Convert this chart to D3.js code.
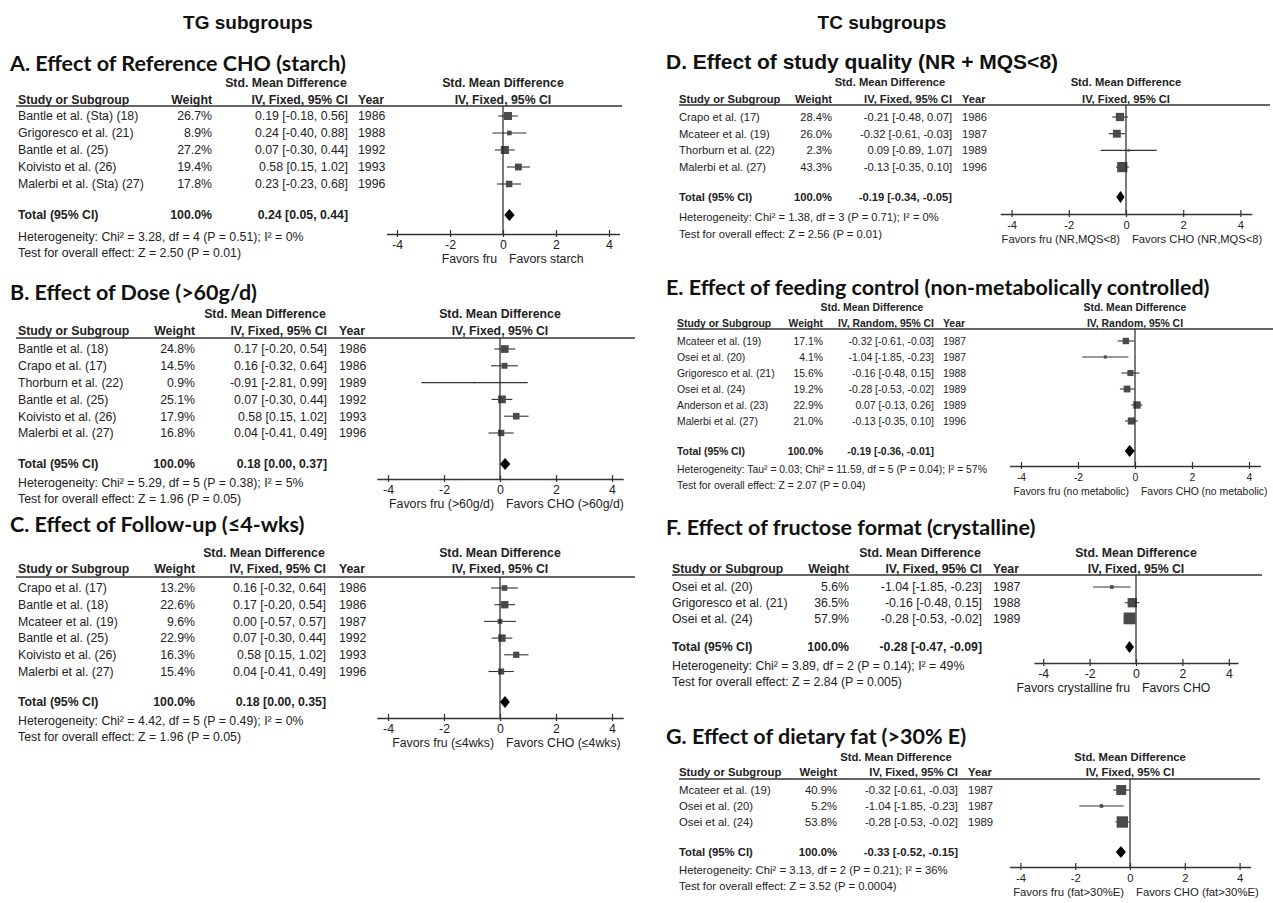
<!DOCTYPE html>
<html>
<head>
<meta charset="utf-8">
<script src="https://cdn.jsdelivr.net/npm/d3@7"></script>
<style>
  body { margin: 0; background: #fff; }
  svg text { font-family: "Liberation Sans", Arial, sans-serif; fill: #222; }
  .title { font-family: Lato, "Open Sans", sans-serif; font-weight: 700; font-size: 21.5px; fill: #111; }
  .titleArial { font-weight: 700; font-size: 21px; fill: #111; }
  .group { font-weight: 700; font-size: 19px; fill: #111; }
</style>
</head>
<body>
<svg id="chart" width="1273" height="903"></svg>
<script>
// ---- data ----
const groupTitles = ['TG subgroups', 'TC subgroups'];
const xTicks = [-4, -2, 0, 2, 4];

const titleA = 'A. Effect of Reference CHO (starch)';
const studiesA = ['Bantle et al. (Sta) (18)', 'Grigoresco et al. (21)', 'Bantle et al. (25)', 'Koivisto et al. (26)', 'Malerbi et al. (Sta) (27)'];
const weightsA = [26.7, 8.9, 27.2, 19.4, 17.8];
const smdA = [0.19, 0.24, 0.07, 0.58, 0.23];
const lowA = [-0.18, -0.40, -0.30, 0.15, -0.23];
const highA = [0.56, 0.88, 0.44, 1.02, 0.68];
const yearsA = [1986, 1988, 1992, 1993, 1996];
const totalA = [0.24, 0.05, 0.44];
const statsA = ['Heterogeneity: Chi² = 3.28, df = 4 (P = 0.51); I² = 0%', 'Test for overall effect: Z = 2.50 (P = 0.01)'];
const favorsA = ['Favors fru', 'Favors starch'];

const titleB = 'B. Effect of Dose (>60g/d)';
const studiesB = ['Bantle et al. (18)', 'Crapo et al. (17)', 'Thorburn et al. (22)', 'Bantle et al. (25)', 'Koivisto et al. (26)', 'Malerbi et al. (27)'];
const weightsB = [24.8, 14.5, 0.9, 25.1, 17.9, 16.8];
const smdB = [0.17, 0.16, -0.91, 0.07, 0.58, 0.04];
const lowB = [-0.20, -0.32, -2.81, -0.30, 0.15, -0.41];
const highB = [0.54, 0.64, 0.99, 0.44, 1.02, 0.49];
const yearsB = [1986, 1986, 1989, 1992, 1993, 1996];
const totalB = [0.18, 0.00, 0.37];
const statsB = ['Heterogeneity: Chi² = 5.29, df = 5 (P = 0.38); I² = 5%', 'Test for overall effect: Z = 1.96 (P = 0.05)'];
const favorsB = ['Favors fru (>60g/d)', 'Favors CHO (>60g/d)'];

const titleC = 'C. Effect of Follow-up (≤4-wks)';
const studiesC = ['Crapo et al. (17)', 'Bantle et al. (18)', 'Mcateer et al. (19)', 'Bantle et al. (25)', 'Koivisto et al. (26)', 'Malerbi et al. (27)'];
const weightsC = [13.2, 22.6, 9.6, 22.9, 16.3, 15.4];
const smdC = [0.16, 0.17, 0.00, 0.07, 0.58, 0.04];
const lowC = [-0.32, -0.20, -0.57, -0.30, 0.15, -0.41];
const highC = [0.64, 0.54, 0.57, 0.44, 1.02, 0.49];
const yearsC = [1986, 1986, 1987, 1992, 1993, 1996];
const totalC = [0.18, 0.00, 0.35];
const statsC = ['Heterogeneity: Chi² = 4.42, df = 5 (P = 0.49); I² = 0%', 'Test for overall effect: Z = 1.96 (P = 0.05)'];
const favorsC = ['Favors fru (≤4wks)', 'Favors CHO (≤4wks)'];

const titleD = 'D. Effect of study quality (NR + MQS<8)';
const studiesD = ['Crapo et al. (17)', 'Mcateer et al. (19)', 'Thorburn et al. (22)', 'Malerbi et al. (27)'];
const weightsD = [28.4, 26.0, 2.3, 43.3];
const smdD = [-0.21, -0.32, 0.09, -0.13];
const lowD = [-0.48, -0.61, -0.89, -0.35];
const highD = [0.07, -0.03, 1.07, 0.10];
const yearsD = [1986, 1987, 1989, 1996];
const totalD = [-0.19, -0.34, -0.05];
const statsD = ['Heterogeneity: Chi² = 1.38, df = 3 (P = 0.71); I² = 0%', 'Test for overall effect: Z = 2.56 (P = 0.01)'];
const favorsD = ['Favors fru (NR,MQS<8)', 'Favors CHO (NR,MQS<8)'];

const titleE = 'E. Effect of feeding control (non-metabolically controlled)';
const studiesE = ['Mcateer et al. (19)', 'Osei et al. (20)', 'Grigoresco et al. (21)', 'Osei et al. (24)', 'Anderson et al. (23)', 'Malerbi et al. (27)'];
const weightsE = [17.1, 4.1, 15.6, 19.2, 22.9, 21.0];
const smdE = [-0.32, -1.04, -0.16, -0.28, 0.07, -0.13];
const lowE = [-0.61, -1.85, -0.48, -0.53, -0.13, -0.35];
const highE = [-0.03, -0.23, 0.15, -0.02, 0.26, 0.10];
const yearsE = [1987, 1987, 1988, 1989, 1989, 1996];
const totalE = [-0.19, -0.36, -0.01];
const statsE = ['Heterogeneity: Tau² = 0.03; Chi² = 11.59, df = 5 (P = 0.04); I² = 57%', 'Test for overall effect: Z = 2.07 (P = 0.04)'];
const favorsE = ['Favors fru (no metabolic)', 'Favors CHO (no metabolic)'];

const titleF = 'F. Effect of fructose format (crystalline)';
const studiesF = ['Osei et al. (20)', 'Grigoresco et al. (21)', 'Osei et al. (24)'];
const weightsF = [5.6, 36.5, 57.9];
const smdF = [-1.04, -0.16, -0.28];
const lowF = [-1.85, -0.48, -0.53];
const highF = [-0.23, 0.15, -0.02];
const yearsF = [1987, 1988, 1989];
const totalF = [-0.28, -0.47, -0.09];
const statsF = ['Heterogeneity: Chi² = 3.89, df = 2 (P = 0.14); I² = 49%', 'Test for overall effect: Z = 2.84 (P = 0.005)'];
const favorsF = ['Favors crystalline fru', 'Favors CHO'];

const titleG = 'G. Effect of dietary fat (>30% E)';
const studiesG = ['Mcateer et al. (19)', 'Osei et al. (20)', 'Osei et al. (24)'];
const weightsG = [40.9, 5.2, 53.8];
const smdG = [-0.32, -1.04, -0.28];
const lowG = [-0.61, -1.85, -0.53];
const highG = [-0.03, -0.23, -0.02];
const yearsG = [1987, 1987, 1989];
const totalG = [-0.33, -0.52, -0.15];
const statsG = ['Heterogeneity: Chi² = 3.13, df = 2 (P = 0.21); I² = 36%', 'Test for overall effect: Z = 3.52 (P = 0.0004)'];
const favorsG = ['Favors fru (fat>30%E)', 'Favors CHO (fat>30%E)'];

// ---- layout (pixels) ----
const fixed = 'IV, Fixed, 95% CI', random = 'IV, Random, 95% CI';
const panels = [
  {title: titleA, studies: studiesA, w: weightsA, est: smdA, lo: lowA, hi: highA, years: yearsA, total: totalA, stats: statsA, favors: favorsA, method: fixed,
   L: {titleX: 10, titleY: 63, nameX: 18, lineX0: 16, lineX1: 622, weightX: 212, ciX: 348, yearX: 358, zero: 503, unit: 26.5,
       smd: 83, head: 100, line: 106, row0: 116, step: 17, total: 215, axis: 234, het: 237, test: 253, fs: 12.3}},
  {title: titleB, studies: studiesB, w: weightsB, est: smdB, lo: lowB, hi: highB, years: yearsB, total: totalB, stats: statsB, favors: favorsB, method: fixed,
   L: {titleX: 10, titleY: 292, nameX: 18, lineX0: 16, lineX1: 635, weightX: 195, ciX: 327, yearX: 339, zero: 500, unit: 28,
       smd: 314, head: 331, line: 338, row0: 349, step: 16.8, total: 464, axis: 479, het: 483, test: 499, fs: 12.3}},
  {title: titleC, studies: studiesC, w: weightsC, est: smdC, lo: lowC, hi: highC, years: yearsC, total: totalC, stats: statsC, favors: favorsC, method: fixed,
   L: {titleX: 10, titleY: 524, nameX: 18, lineX0: 16, lineX1: 635, weightX: 195, ciX: 326, yearX: 339, zero: 500, unit: 28,
       smd: 553, head: 569, line: 577, row0: 588, step: 16.7, total: 702, axis: 718, het: 721, test: 737, fs: 12.3}},
  {title: titleD, studies: studiesD, w: weightsD, est: smdD, lo: lowD, hi: highD, years: yearsD, total: totalD, stats: statsD, favors: favorsD, method: fixed, arialTitle: true,
   L: {titleX: 666, titleY: 62, nameX: 679, lineX0: 679, lineX1: 1270, weightX: 832, ciX: 952, yearX: 962, zero: 1126, unit: 28.6,
       smd: 82, head: 99, line: 105, row0: 117, step: 16.7, total: 197, axis: 214, het: 217, test: 234, fs: 11.2}},
  {title: titleE, studies: studiesE, w: weightsE, est: smdE, lo: lowE, hi: highE, years: yearsE, total: totalE, stats: statsE, favors: favorsE, method: random,
   L: {titleX: 666, titleY: 287, nameX: 677, lineX0: 677, lineX1: 1273, weightX: 823, ciX: 934, yearX: 943, zero: 1135, unit: 28.5,
       smd: 307, head: 323, line: 329, row0: 341, step: 16, total: 451, axis: 466, het: 469, test: 485, fs: 10.4}},
  {title: titleF, studies: studiesF, w: weightsF, est: smdF, lo: lowF, hi: highF, years: yearsF, total: totalF, stats: statsF, favors: favorsF, method: fixed,
   L: {titleX: 666, titleY: 527, nameX: 672, lineX0: 672, lineX1: 1262, weightX: 849, ciX: 982, yearX: 993, zero: 1136, unit: 23.2,
       smd: 553, head: 569, line: 575, row0: 587, step: 15.7, total: 647, axis: 663, het: 666, test: 682, fs: 12.3}},
  {title: titleG, studies: studiesG, w: weightsG, est: smdG, lo: lowG, hi: highG, years: yearsG, total: totalG, stats: statsG, favors: favorsG, method: fixed,
   L: {titleX: 666, titleY: 736, nameX: 679, lineX0: 679, lineX1: 1260, weightX: 837, ciX: 958, yearX: 968, zero: 1130, unit: 27.4,
       smd: 757, head: 772, line: 779, row0: 790, step: 16, total: 852, axis: 867, het: 870, test: 886, fs: 11.3}}
];

const svg = d3.select('#chart');
svg.append('rect').attr('width', 1273).attr('height', 903).attr('fill', '#fff');

svg.selectAll('text.group').data(groupTitles).join('text')
  .attr('class', 'group')
  .attr('x', (d, i) => i === 0 ? 248 : 882)
  .attr('y', 22).attr('dy', '0.35em')
  .attr('text-anchor', 'middle')
  .text(d => d);

// square side grows with sqrt of the weight
const size = d3.scaleSqrt().domain([0, 100]).range([0, 15.5]);

function drawPanel(p) {
  const L = p.L;
  const g = svg.append('g');
  const n = p.studies.length;
  const x = d3.scaleLinear().domain([-4.4, 4.4]).range([L.zero - 4.4 * L.unit, L.zero + 4.4 * L.unit]);
  const y = d3.scalePoint().domain(d3.range(n)).range([L.row0, L.row0 + (n - 1) * L.step]);

  const label = (tx, ty, txt, anchor, bold) => g.append('text')
    .attr('x', tx).attr('y', ty).attr('dy', '0.35em')
    .attr('text-anchor', anchor)
    .style('font-size', L.fs + 'px')
    .style('font-weight', bold ? 'bold' : 'normal')
    .text(txt);

  g.append('text')
    .attr('class', p.arialTitle ? 'titleArial' : 'title')
    .attr('x', L.titleX).attr('y', L.titleY).attr('dy', '0.35em')
    .text(p.title);

  // headers
  label(L.ciX - 62, L.smd, 'Std. Mean Difference', 'middle', true);
  label(x(0), L.smd, 'Std. Mean Difference', 'middle', true);
  label(L.nameX, L.head, 'Study or Subgroup', 'start', true);
  label(L.weightX, L.head, 'Weight', 'end', true);
  label(L.ciX, L.head, p.method, 'end', true);
  label(L.yearX, L.head, 'Year', 'start', true);
  label(x(0), L.head, p.method, 'middle', true);
  g.append('line')
    .attr('x1', L.lineX0).attr('x2', L.lineX1)
    .attr('y1', L.line).attr('y2', L.line)
    .attr('stroke', '#333').attr('stroke-width', 1.3);

  // study rows
  const rows = g.selectAll('g.row').data(d3.range(n)).join('g').attr('class', 'row');
  const cell = (sel, tx, anchor, fn) => sel.append('text')
    .attr('x', tx).attr('y', i => y(i)).attr('dy', '0.35em')
    .attr('text-anchor', anchor)
    .style('font-size', L.fs + 'px')
    .text(fn);
  cell(rows, L.nameX, 'start', i => p.studies[i]);
  cell(rows, L.weightX, 'end', i => p.w[i].toFixed(1) + '%');
  cell(rows, L.ciX, 'end', i => `${p.est[i].toFixed(2)} [${p.lo[i].toFixed(2)}, ${p.hi[i].toFixed(2)}]`);
  cell(rows, L.yearX, 'start', i => p.years[i]);

  // zero line
  g.append('line')
    .attr('x1', x(0)).attr('x2', x(0))
    .attr('y1', L.line).attr('y2', L.axis)
    .attr('stroke', '#222').attr('stroke-width', 1.2);

  rows.append('line')
    .attr('x1', i => x(p.lo[i])).attr('x2', i => x(p.hi[i]))
    .attr('y1', i => y(i)).attr('y2', i => y(i))
    .attr('stroke', '#333').attr('stroke-width', 1.1);
  rows.append('rect')
    .attr('x', i => x(p.est[i]) - size(p.w[i]) / 2)
    .attr('y', i => y(i) - size(p.w[i]) / 2)
    .attr('width', i => size(p.w[i]))
    .attr('height', i => size(p.w[i]))
    .attr('fill', '#4a4a4a');

  // total row
  label(L.nameX, L.total, 'Total (95% CI)', 'start', true);
  label(L.weightX, L.total, '100.0%', 'end', true);
  label(L.ciX, L.total, `${p.total[0].toFixed(2)} [${p.total[1].toFixed(2)}, ${p.total[2].toFixed(2)}]`, 'end', true);
  g.append('path')
    .attr('d', d3.line()([
      [x(p.total[1]), L.total], [x(p.total[0]), L.total - 6],
      [x(p.total[2]), L.total], [x(p.total[0]), L.total + 6]
    ]) + 'Z')
    .attr('fill', '#000');

  label(L.nameX, L.het, p.stats[0], 'start', false);
  label(L.nameX, L.test, p.stats[1], 'start', false);

  // axis
  const ax = g.append('g')
    .attr('transform', `translate(0,${L.axis})`)
    .call(d3.axisBottom(x).tickValues(xTicks).tickFormat(d => String(d))
      .tickSizeInner(-4).tickSizeOuter(0).tickPadding(0));
  ax.select('.domain').attr('stroke', '#333').attr('stroke-width', 1.3);
  ax.selectAll('.tick line').attr('y1', 3).attr('stroke', '#333').attr('stroke-width', 1.2);
  ax.selectAll('.tick text').attr('y', 11).attr('dy', '0.35em').style('font-size', L.fs + 'px');

  label(x(0) - 6, L.axis + 25, p.favors[0], 'end', false);
  label(x(0) + 6, L.axis + 25, p.favors[1], 'start', false);
}

panels.forEach(drawPanel);
</script>
</body>
</html>
